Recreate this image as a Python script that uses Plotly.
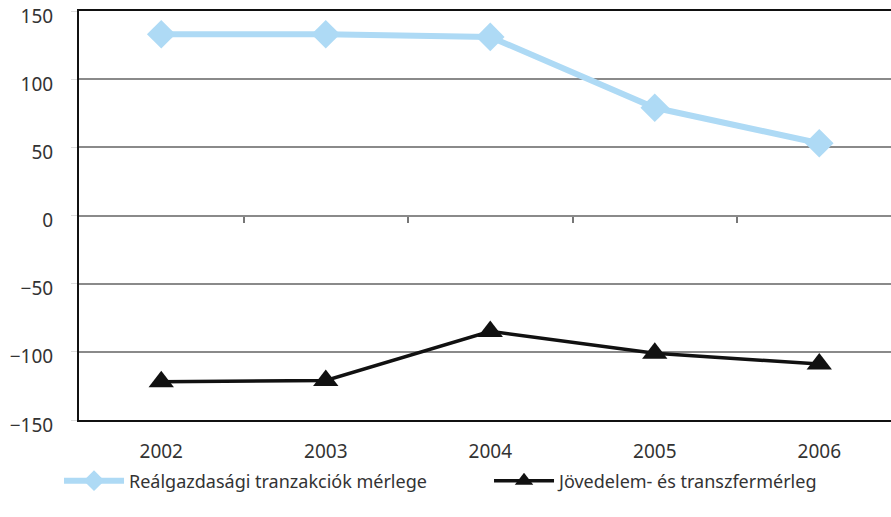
import plotly.graph_objects as go

years = ["2002", "2003", "2004", "2005", "2006"]
real_balance = [133, 133, 131, 79, 53]
income_transfer = [-122, -121, -85, -101, -109]
y_ticks = [-150, -100, -50, 0, 50, 100, 150]
y_tick_labels = ["\u2212150", "\u2212100", "\u221250", "0", "50", "100", "150"]

xs = list(range(len(years)))
tick_font = dict(family="Noto Sans", size=19, color="#333333")
legend_font = dict(family="Noto Sans", size=18, color="#333333")

fig = go.Figure()
fig.add_trace(go.Scatter(
    x=xs, y=real_balance, mode="lines+markers",
    name="Reálgazdasági tranzakciók mérlege",
    line=dict(color="#AEDAF5", width=6),
    marker=dict(symbol="diamond", size=22, color="#AEDAF5"),
))
fig.add_trace(go.Scatter(
    x=xs, y=income_transfer, mode="lines+markers",
    name="Jövedelem- és transzfermérleg",
    line=dict(color="#111111", width=3.5),
    marker=dict(symbol="triangle-up", size=22, color="#111111"),
))
# invisible trace carrying the secondary axis (ticks on the zero line)
fig.add_trace(go.Scatter(x=[None], y=[None], xaxis="x2", showlegend=False, hoverinfo="skip"))

xrange = [-0.5, 4.436]
fig.update_layout(
    width=891, height=517,
    margin=dict(l=79, r=0, t=11, b=97, autoexpand=False),
    paper_bgcolor="white", plot_bgcolor="white",
    font=tick_font,
    showlegend=True,
    legend=dict(
        orientation="h", x=-0.0246, xanchor="left", y=-0.149, yanchor="middle",
        itemwidth=60, entrywidth=355, entrywidthmode="pixels",
        font=legend_font, bgcolor="rgba(0,0,0,0)",
    ),
    xaxis=dict(
        range=xrange, tickmode="array", tickvals=xs, ticktext=years,
        showgrid=False, zeroline=False, automargin=False,
        showline=True, linecolor="#111111", linewidth=2, mirror=True,
        ticks="", tickfont=tick_font, ticklabelstandoff=13,
    ),
    xaxis2=dict(
        range=xrange, overlaying="x", anchor="free", position=0.5, side="bottom",
        tickmode="array", tickvals=[0.5, 1.5, 2.5, 3.5], automargin=False,
        ticks="outside", ticklen=6, tickwidth=2, tickcolor="#777777",
        showticklabels=False, showgrid=False, zeroline=False, showline=False,
    ),
    yaxis=dict(
        range=[-150, 150], tickmode="array", tickvals=y_ticks, ticktext=y_tick_labels,
        showgrid=True, gridcolor="#8a8a8a", gridwidth=1.5, automargin=False,
        zeroline=True, zerolinecolor="#8a8a8a", zerolinewidth=2,
        showline=True, linecolor="#111111", linewidth=2,
        ticks="outside", ticklen=6, tickcolor="#dddddd",
        tickfont=tick_font, ticklabelstandoff=14, ticklabelshift=5,
        ticklabeloverflow="allow",
    ),
)

fig.write_html("out.html")
